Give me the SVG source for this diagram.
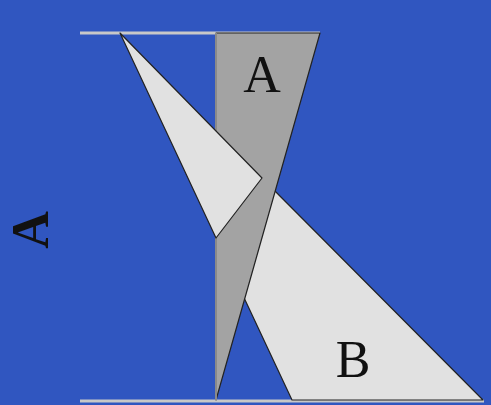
<svg xmlns="http://www.w3.org/2000/svg" width="491" height="405" viewBox="0 0 491 405">
<style>
.bg{fill:#3056C0}
.dark{fill:#A3A3A3;stroke:#222;stroke-width:1.2;stroke-linejoin:round}
.light{fill:#E1E1E1;stroke:#222;stroke-width:1.2;stroke-linejoin:round}
.rule{stroke:#C8C8C8;stroke-width:3;fill:none}
.lbl{font-family:"Liberation Serif","Times New Roman",serif;font-size:52px;fill:#111;text-anchor:middle}
</style>
<rect class="bg" x="0" y="0" width="491" height="405"/>
<g id="lines">
<line class="rule" x1="80" y1="33" x2="320" y2="33"/>
<line class="rule" x1="80" y1="401" x2="484" y2="401"/>
</g>
<g id="shapeB">
<polygon class="light" points="216,238 262,178 483,400 292,400"/>
<text class="lbl" x="353" y="377">B</text>
</g>
<g id="shapeA">
<polygon class="dark" points="216,33 320,33 216,400"/>
<line x1="216" y1="33" x2="216" y2="400" stroke="#8A8A8A" stroke-width="2"/>
<text class="lbl" x="262" y="92">A</text>
</g>
<g id="triangle">
<polygon class="light" points="120,33 262,178 216,238"/>
</g>
<g id="symbol">
<text class="lbl" font-size="34" font-weight="bold" dominant-baseline="central" transform="translate(30,230) rotate(-90)" x="0" y="0">A</text>
</g>
</svg>
